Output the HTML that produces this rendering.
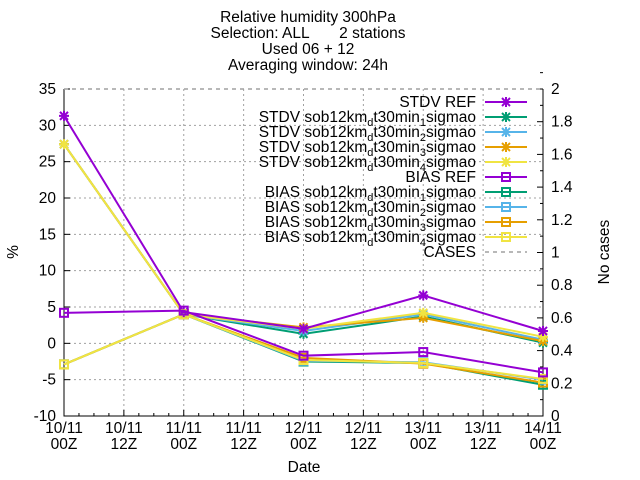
<!DOCTYPE html>
<html><head><meta charset="utf-8"><style>
body{margin:0;background:#fff}
svg{display:block;font-family:"Liberation Sans",sans-serif;font-size:15.5px}
</style></head><body>
<svg id="chart" width="640" height="480">
<g text-anchor="middle" fill="#000" font-size="15.5">
<text x="308" y="22">Relative humidity 300hPa</text>
<text x="308" y="38" style="white-space:pre">Selection: ALL       2 stations</text>
<text x="308" y="54">Used 06 + 12</text>
<text x="308" y="70">Averaging window: 24h</text>
</g>
<g id="grid"></g>
<g id="axes"></g>
<g id="series"></g>
<g id="legend"></g>
<text x="304" y="472" text-anchor="middle">Date</text>
<text transform="translate(18,252) rotate(-90)" text-anchor="middle">%</text>
<text transform="translate(609,252) rotate(-90)" text-anchor="middle">No cases</text>
</svg>
<script>
const xLabels1=["10/11","10/11","11/11","11/11","12/11","12/11","13/11","13/11","14/11"];
const xLabels2=["00Z","12Z","00Z","12Z","00Z","12Z","00Z","12Z","00Z"];
const yTicks=[-10,-5,0,5,10,15,20,25,30,35];
const y2Ticks=[0,0.2,0.4,0.6,0.8,1,1.2,1.4,1.6,1.8,2];
const xIdx=[0,2,4,6,8];
const stdvRef=[31.3,4.3,2.0,6.6,1.7];
const stdv1=[27.4,4.0,1.3,3.7,0.1];
const stdv2=[27.4,4.0,1.7,4.0,0.5];
const stdv3=[27.4,4.0,2.2,3.5,0.3];
const stdv4=[27.4,4.0,2.0,4.2,0.9];
const biasRef=[4.2,4.5,-1.7,-1.2,-4.0];
const bias1=[-2.9,4.0,-2.5,-2.7,-5.7];
const bias2=[-2.9,4.0,-2.4,-2.6,-5.0];
const bias3=[-2.9,4.0,-2.0,-2.8,-5.4];
const bias4=[-2.9,4.0,-2.3,-2.7,-4.9];
const cases=[2,2,2,2,2];
const legendLabels=["STDV REF","STDV sob12km|d|t30min|1|sigmao","STDV sob12km|d|t30min|2|sigmao","STDV sob12km|d|t30min|3|sigmao","STDV sob12km|d|t30min|4|sigmao","BIAS REF","BIAS sob12km|d|t30min|1|sigmao","BIAS sob12km|d|t30min|2|sigmao","BIAS sob12km|d|t30min|3|sigmao","BIAS sob12km|d|t30min|4|sigmao","CASES"];

const L=64,R=543,T=89,B=416;
const xs=i=>L+(R-L)*i/8;
const ys=v=>B-(v+10)/45*(B-T);
const ys2=v=>B-v/2*(B-T);
const NS="http://www.w3.org/2000/svg";
function mk(tag,attrs,parent){const e=document.createElementNS(NS,tag);for(const k in attrs)e.setAttribute(k,attrs[k]);parent.appendChild(e);return e;}
const grid=document.getElementById('grid'),axes=document.getElementById('axes'),ser=document.getElementById('series'),leg=document.getElementById('legend');

for(let i=1;i<8;i++){const g=mk('line',{x1:xs(i),x2:xs(i),y1:T,y2:B,stroke:'#a0a0a0','stroke-dasharray':'2,3','stroke-width':1},grid);

}
yTicks.forEach(v=>{if(v===-10||v===35)return;const g=mk('line',{x1:L,x2:R,y1:ys(v),y2:ys(v),stroke:'#a0a0a0','stroke-dasharray':'2,3','stroke-width':1},grid);

});

mk('path',{d:`M${L},${T}V${B}H${R}V${T}`,stroke:'#000',fill:'none','stroke-width':1},axes);
yTicks.forEach(v=>{mk('line',{x1:L,x2:L+6,y1:ys(v),y2:ys(v),stroke:'#000'},axes);
const t=mk('text',{x:L-8,y:ys(v)+5,'text-anchor':'end'},axes);t.textContent=v;

});
y2Ticks.forEach(v=>{mk('line',{x1:R-6,x2:R,y1:ys2(v),y2:ys2(v),stroke:'#000'},axes);
mk('line',{x1:R-3,x2:R,y1:ys2(v+0.1),y2:ys2(v+0.1),stroke:'#000'},axes);
const t=mk('text',{x:R+8,y:ys2(v)+5},axes);t.textContent=v;

});
for(let i=0;i<=8;i++){mk('line',{x1:xs(i),x2:xs(i),y1:B,y2:B-6,stroke:'#000'},axes);
if(i<8)for(let k=1;k<4;k++)mk('line',{x1:xs(i+k/4),x2:xs(i+k/4),y1:B,y2:B-3,stroke:'#000'},axes);
const t=mk('text',{x:xs(i),y:433,'text-anchor':'middle'},axes);t.textContent=xLabels1[i];


const t2=mk('text',{x:xs(i),y:449,'text-anchor':'middle'},axes);t2.textContent=xLabels2[i];

}

const P='#9400d3',G='#009e73',BL='#56b4e9',O='#e69f00',Y='#f0e442';
function star(x,y,c,p){mk('path',{d:`M${x-4},${y-4}L${x+4},${y+4}M${x-4},${y+4}L${x+4},${y-4}M${x-5},${y}H${x+5}M${x},${y-5}V${y+5}`,stroke:c,'stroke-width':2},p);}
function sq(x,y,c,p){mk('rect',{x:x-4,y:y-4,width:8,height:8,stroke:c,fill:'none','stroke-width':2},p);}
const list=[[stdvRef,P,star,'stdv-ref-line'],[stdv1,G,star,'stdv-1-line'],[stdv2,BL,star,'stdv-2-line'],[stdv3,O,star,'stdv-3-line'],[stdv4,Y,star,'stdv-4-line'],
[biasRef,P,sq,'bias-ref-line'],[bias1,G,sq,'bias-1-line'],[bias2,BL,sq,'bias-2-line'],[bias3,O,sq,'bias-3-line'],[bias4,Y,sq,'bias-4-line']];
const order=[1,2,3,4,0,6,7,8,9,5];
order.forEach(k=>{const [d,c,m,n]=list[k];
const g=mk('g',{},ser);


mk('polyline',{points:d.map((v,i)=>xs(xIdx[i])+','+ys(v)).join(' '),fill:'none',stroke:c,'stroke-width':2},g);
d.forEach((v,i)=>m(xs(xIdx[i]),ys(v),c,g));});
const cl=mk('polyline',{points:cases.map((v,i)=>xs(xIdx[i])+','+ys2(v)).join(' '),fill:'none',stroke:'#a0a0a0','stroke-dasharray':'4,4','stroke-width':1.5},ser);



legendLabels.forEach((lab,i)=>{const y=102+i*15;
const g=mk('g',{},leg);


const t=mk('text',{x:476,y:y+5,'text-anchor':'end'},g);
lab.split('|').forEach((part,j)=>{const s=mk('tspan',{},t);s.textContent=part;if(j%2===1){s.setAttribute('font-size','11');s.setAttribute('dy','4');}else if(j>0){s.setAttribute('dy','-4');}});
if(i<10){const [,c,m]=list[i];mk('line',{x1:485,x2:527,y1:y,y2:y,stroke:c,'stroke-width':2},g);m(506,y,c,g);}
else mk('line',{x1:485,x2:527,y1:y,y2:y,stroke:'#a0a0a0','stroke-dasharray':'4,4','stroke-width':1.5},g);});
</script>
</body></html>
